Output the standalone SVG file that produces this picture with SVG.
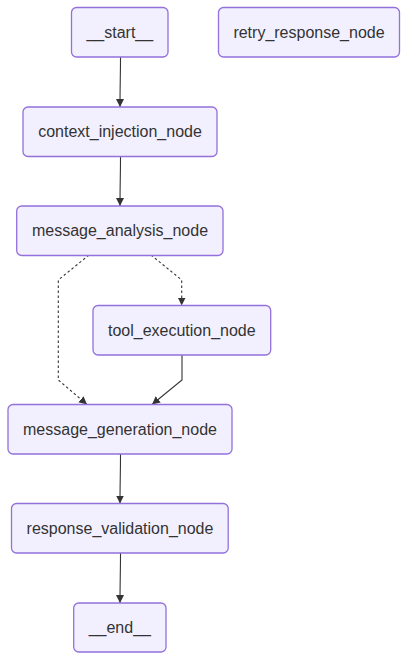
<svg xmlns="http://www.w3.org/2000/svg" width="408" height="660" viewBox="0 0 408 660">
<defs>
<style>
.node rect{fill:#f2f0ff;stroke:#9370db;stroke-width:1.3}
.node text{font-family:"Liberation Sans",Arial,sans-serif;font-size:16px;fill:#333;text-anchor:middle;dominant-baseline:central}
.edge{fill:none;stroke:#333;stroke-width:1.1}
.dash{stroke-dasharray:2.5 2.5}
</style>
<marker id="arr" viewBox="0 0 10 10" refX="10" refY="5" markerWidth="8" markerHeight="8" markerUnits="userSpaceOnUse" orient="auto">
<path d="M0,0 L10,5 L0,10 z" fill="#333"/>
</marker>
</defs>
<g id="edges">
<path class="edge" d="M120.5,57 C120.5,75 120,85 120,107" marker-end="url(#arr)"/>
<path class="edge" d="M120.5,156 C120.5,175 120,185 120,206" marker-end="url(#arr)"/>
<path class="edge dash" d="M89,255 L58.3,280 L58.3,380 L87,404.5" marker-end="url(#arr)"/>
<path class="edge dash" d="M151,255 L181.7,280 L181.7,305.5" marker-end="url(#arr)"/>
<path class="edge" d="M182,355 L182,380 L152,404.5" marker-end="url(#arr)"/>
<path class="edge" d="M120.5,454 C120.5,473 120,483 120,503.5" marker-end="url(#arr)"/>
<path class="edge" d="M120.5,553 C120.5,572 120,582 120,603" marker-end="url(#arr)"/>
</g>
<g id="start" class="node"><rect x="71.5" y="7.5" width="96.5" height="49.5" rx="5"/><text x="119.8" y="32.3">__start__</text></g>
<g id="retry_response_node" class="node"><rect x="218.5" y="7.5" width="181" height="49.5" rx="5"/><text x="309" y="32.3">retry_response_node</text></g>
<g id="context_injection_node" class="node"><rect x="23" y="107" width="194" height="49.5" rx="5"/><text x="120" y="131.8">context_injection_node</text></g>
<g id="message_analysis_node" class="node"><rect x="16.7" y="206" width="206.3" height="49.5" rx="5"/><text x="120" y="230.8">message_analysis_node</text></g>
<g id="tool_execution_node" class="node"><rect x="93" y="305.5" width="177.7" height="49.5" rx="5"/><text x="181.8" y="330.3">tool_execution_node</text></g>
<g id="message_generation_node" class="node"><rect x="8" y="404.5" width="224" height="49.5" rx="5"/><text x="120" y="429.3">message_generation_node</text></g>
<g id="response_validation_node" class="node"><rect x="11.5" y="503.5" width="216.7" height="49.5" rx="5"/><text x="120" y="528.3">response_validation_node</text></g>
<g id="end" class="node"><rect x="73.7" y="603" width="92.3" height="49" rx="5"/><text x="119.8" y="627.5">__end__</text></g>
</svg>
